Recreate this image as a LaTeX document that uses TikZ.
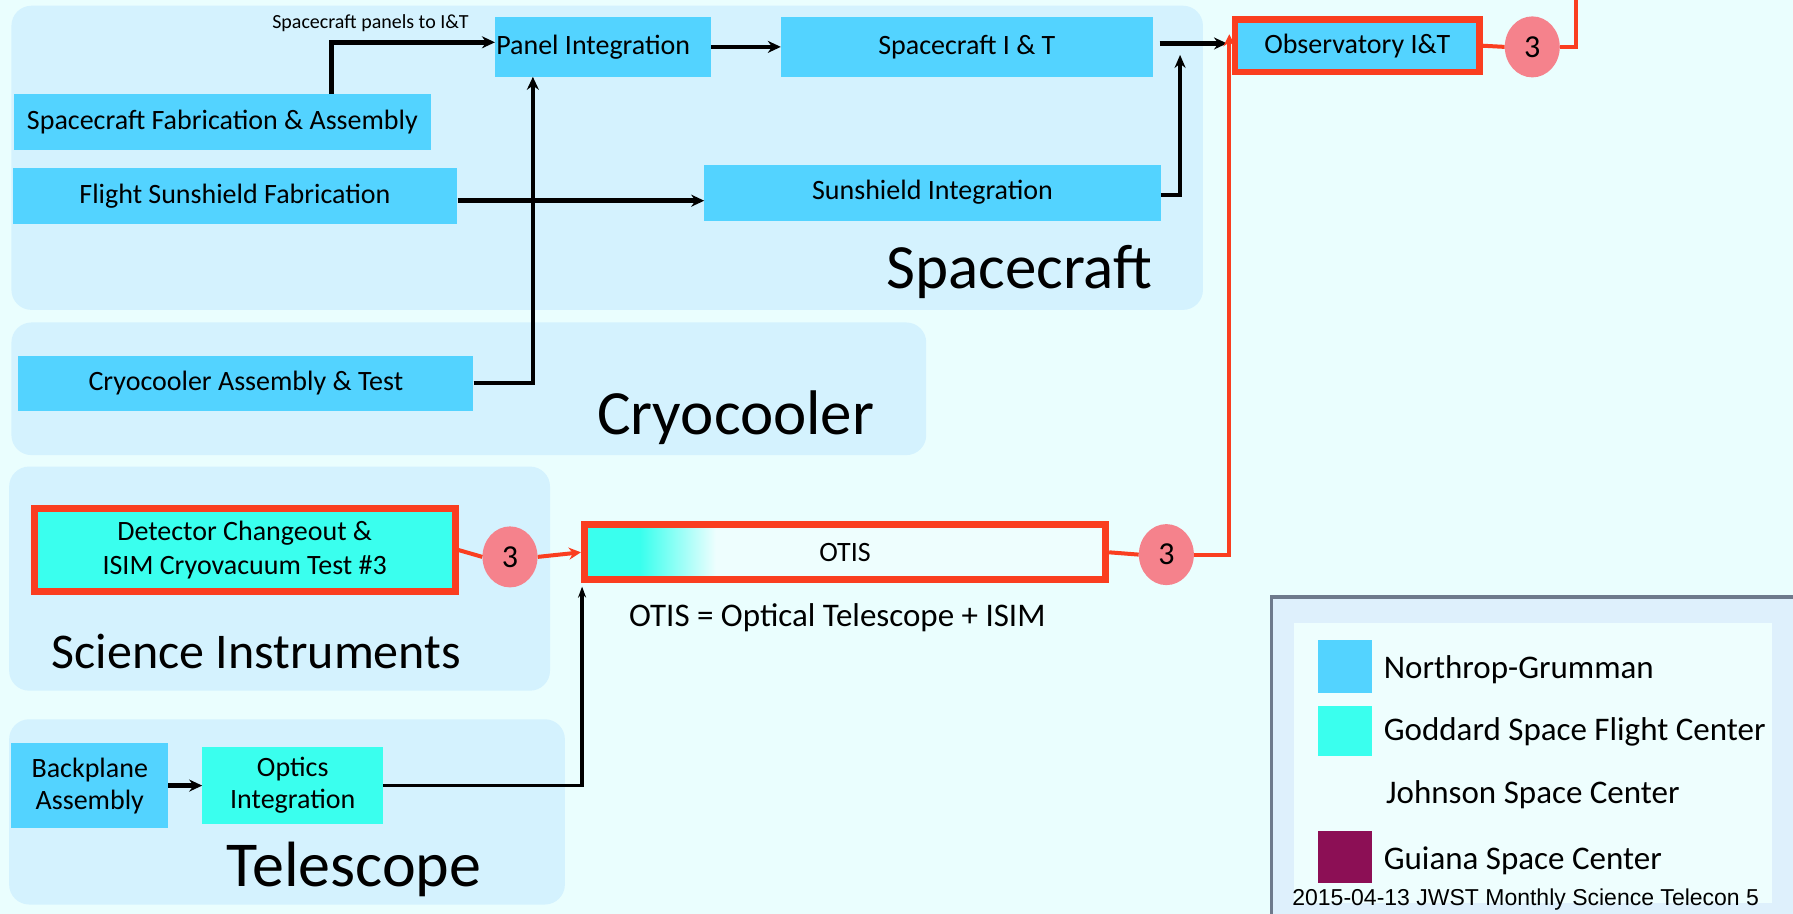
\documentclass[tikz,border=0pt]{standalone}
\usepackage{fontspec}
\setmainfont{Carlito}
\newfontfamily\footfont{Liberation Sans}
\usetikzlibrary{arrows.meta,shapes.geometric,calc}
\definecolor{bgc}{RGB}{234,254,254}
\definecolor{panelc}{RGB}{212,242,254}
\definecolor{ngc}{RGB}{83,211,255}
\definecolor{gsc}{RGB}{58,255,238}
\definecolor{redc}{RGB}{250,62,32}
\definecolor{pinkc}{RGB}{245,130,140}
\definecolor{guic}{RGB}{140,15,85}
\definecolor{legframe}{RGB}{110,122,140}
\definecolor{legfill}{RGB}{222,240,252}
\definecolor{leginner}{RGB}{238,254,254}
\begin{document}
\begin{tikzpicture}[x=1.1435pt,y=-1.1435pt,
  panel/.style={fill=panelc,rounded corners=20},
  nfont/.style={font=\fontsize{28}{34}\selectfont},
  boxng/.style={fill=ngc,draw=none,inner sep=0pt,nfont,align=center},
  boxgs/.style={fill=gsc,draw=none,inner sep=0pt,nfont,align=center},
  redbox/.style={draw=redc,line width=6.8pt},
  badge/.style={ellipse,fill=pinkc,minimum width=55pt,minimum height=61pt,inner sep=0pt,font=\fontsize{32}{36}\selectfont},
  bigl/.style={font=\fontsize{63}{70}\selectfont,inner sep=0pt},
  legl/.style={font=\fontsize{33}{38}\selectfont,inner sep=0pt,anchor=base west},
  arr/.style={line width=4.4pt,-{Stealth[length=13pt,width=12pt]}},
  rarr/.style={draw=redc,line width=4pt,-{Stealth[length=12pt,width=12pt]}},
  rln/.style={draw=redc,line width=4pt}]
\useasboundingbox (0,0) rectangle (1568,799);
\fill[bgc] (0,0) rectangle (1568,799);
% panels
\fill[panel] (10,5) rectangle (1052,271);
\fill[panel] (10,282) rectangle (810,398);
\fill[panel] (8,408) rectangle (481,604);
\fill[panel] (8,629) rectangle (494,791);
% legend
\draw[legframe,line width=3.4pt,fill=legfill] (1112,522) rectangle (1580,812);
\fill[leginner] (1132,545) rectangle (1550,790);
% panel labels
\node[bigl,anchor=base east] (lsc) at (1008,252) {Spacecraft};
\node[bigl,anchor=base west] (lcc) at (522,380) {Cryocooler};
\node[bigl,anchor=base west,font=\fontsize{50}{60}\selectfont] (lsi) at (45,585) {Science Instruments};
\node[bigl,anchor=base west,font=\fontsize{64}{70}\selectfont] (ltel) at (198,775) {Telescope};
% nodes
\node[boxng,minimum width=189*1.1435pt,minimum height=52*1.1435pt] (pi) at (527.5,41) {\makebox[213.8pt][l]{Panel Integration}};
\node[boxng,minimum width=325*1.1435pt,minimum height=52*1.1435pt] (sit) at (845.5,41) {Spacecraft I \& T};
\node[boxng,redbox,minimum width=214*1.1435pt,minimum height=46*1.1435pt] (obs) at (1187,40) {Observatory I\&T};
\node[boxng,minimum width=365*1.1435pt,minimum height=49*1.1435pt] (sfa) at (194.5,106.5) {Spacecraft Fabrication \& Assembly};
\node[boxng,minimum width=389*1.1435pt,minimum height=49*1.1435pt] (fsf) at (205.5,171.5) {Flight Sunshield Fabrication};
\node[boxng,minimum width=399*1.1435pt,minimum height=49*1.1435pt] (si) at (815.5,168.5) {Sunshield Integration};
\node[boxng,minimum width=398*1.1435pt,minimum height=48*1.1435pt] (cat) at (215,335) {Cryocooler Assembly \& Test};
\node[boxgs,redbox,minimum width=368*1.1435pt,minimum height=72*1.1435pt] (det) at (214,481) {Detector Changeout \&\\ISIM Cryovacuum Test \#3};
% OTIS with gradient
\fill[leginner] (511,459) rectangle (967,507);
\fill[gsc] (511,459) rectangle (560,507);
\shade[left color=gsc,right color=leginner] (560,459) rectangle (626,507);
\node[draw=redc,line width=6.8pt,minimum width=456*1.1435pt,minimum height=48*1.1435pt,inner sep=0pt,nfont] (otis) at (739,483) {OTIS};
\node[boxng,minimum width=137*1.1435pt,minimum height=74*1.1435pt,font=\fontsize{28}{32}\selectfont] (bpa) at (78.5,687) {Backplane\\Assembly};
\node[boxgs,minimum width=158*1.1435pt,minimum height=68*1.1435pt,font=\fontsize{28}{32}\selectfont] (oi) at (256,687) {Optics\\Integration};
% badges
\node[badge] (c1) at (1340,41) {3};
\node[badge] (c2) at (446,487) {3};
\node[badge] (c3) at (1020,485) {3};
% texts
\node[font=\fontsize{20}{24}\selectfont,inner sep=0pt] (lbl) at (324,20) {Spacecraft panels to I\&T};
\node[font=\fontsize{33}{38}\selectfont,inner sep=0pt,anchor=base west] (otiseq) at (550,548) {OTIS = Optical Telescope + ISIM};
% legend entries
\fill[ngc] (1153,560) rectangle (1200,606);
\fill[gsc] (1153,617) rectangle (1200,661);
\fill[guic] (1153,727) rectangle (1200,772);
\node[legl] (l1) at (1210,593) {Northrop-Grumman};
\node[legl] (l2) at (1210,648) {Goddard Space Flight Center};
\node[legl] (l3) at (1212,703) {Johnson Space Center};
\node[legl] (l4) at (1210,760) {Guiana Space Center};
\node[font=\footfont\fontsize{23}{27}\selectfont,inner sep=0pt,anchor=base west] (foot) at (1130,792) {2015-04-13 JWST Monthly Science Telecon 5};
% black connectors
\coordinate (sfaup) at (290,82);
\draw[arr] (sfaup) |- ($(pi.west)+(0,-4)$);
\draw[arr] (pi.east) -- (sit.west);
\draw[arr] ($(sit.east)+(6,-3)$) -- ($(obs.west)+(-4,-2)$);
\draw[line width=3.8pt,-{Stealth[length=13pt,width=11pt]}] ($(si.east)+(0,2)$) -| (1032,48);
\draw[arr] ($(fsf.east)+(0,4)$) -- ($(si.west)+(0,7)$);
\draw[arr] (cat.east) -| (pi.south -| 466,0);
\draw[arr] (bpa.east) -- (oi.west);
\draw[line width=3.8pt,-{Stealth[length=11pt,width=8pt]}] (oi.east) -| ($(otis.south west)+(1,3)$);
% red connectors
\draw[rln] (det.east) -- (c2.west);
\draw[rarr] (c2.east) -- (otis.west);
\draw[rln] (otis.east) -- (c3.west);
\draw[rarr] (c3.east) -| ($(obs.west)+(-2,-10)$);
\draw[rln] (obs.east) -- (c1.west);
\coordinate (top) at (1378,0);
\draw[rln] (c1.east) -| (top);
\end{tikzpicture}
\end{document}
